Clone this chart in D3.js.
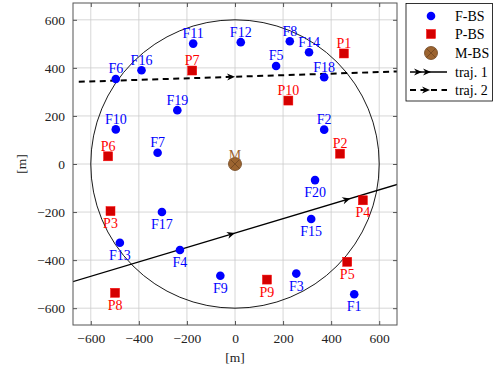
<!DOCTYPE html>
<html>
<head>
<meta charset="utf-8">
<script src="https://cdn.jsdelivr.net/npm/d3@7"></script>
<style>
  body { margin: 0; background: #fff; }
  svg { font-family: "Liberation Serif", "DejaVu Serif", serif; }
</style>
</head>
<body>
<div id="chart"></div>
<script>
/// data

// F-BS (femto base stations)
const fNames = ["F1","F2","F3","F4","F5","F6","F7","F8","F9","F10","F11","F12","F13","F14","F15","F16","F17","F18","F19","F20"];
const fX = [496, 371, 255, -229, 171, -496, -322, 228, -61, -496, -174, 24, -479, 308, 317, -389, -304, 371, -240, 333];
const fY = [-542, 143, -456, -358, 408, 354, 47, 511, -465, 144, 501, 507, -328, 465, -229, 390, -200, 361, 224, -67];

// P-BS (pico base stations)
const pNames = ["P1","P2","P3","P4","P5","P6","P7","P8","P9","P10"];
const pX = [453, 437, -518, 532, 467, -528, -178, -499, 133, 222];
const pY = [460, 43, -196, -151, -407, 32, 389, -536, -481, 264];

// M-BS
const mX = [0];
const mY = [0];

// labels which sit under their marker
const labelBelow = ["F1","F3","F4","F9","F13","F15","F17","F20","P3","P4","P5","P8","P9"];

// trajectories: end points and where the arrow heads are
const traj1X = [-675, 675];
const traj1Y = [-490, -85];
const traj1Arrows = [0, 480];
const traj2X = [-650, 675];
const traj2Y = [342, 385];
const traj2Arrows = [0];

const cellRadius = 600;
const ticks = [-600, -400, -200, 0, 200, 400, 600];

///////////////////////////////////////////////////////////////////////////////

const width = 493, height = 370;
const margin = { top: 3, right: 96, bottom: 45, left: 73 };

const svg = d3.select("#chart").append("svg")
  .attr("width", width)
  .attr("height", height);

const x = d3.scaleLinear().domain([-674, 674]).range([margin.left, width - margin.right]);
const y = d3.scaleLinear().domain([-670, 670]).range([height - margin.bottom, margin.top]);

const fmt = d => d < 0 ? "\u2212" + Math.abs(d) : "" + d;

// clip for everything inside the frame
svg.append("clipPath").attr("id", "plotClip")
  .append("rect")
  .attr("x", x(-674)).attr("y", y(670))
  .attr("width", x(674) - x(-674)).attr("height", y(-670) - y(670));

// grid
const grid = svg.append("g").attr("class", "grid");
grid.selectAll("line.gx").data(ticks).enter().append("line")
  .attr("x1", d => x(d)).attr("x2", d => x(d))
  .attr("y1", y(670)).attr("y2", y(-670))
  .style("stroke", "#cccccc").style("stroke-width", 0.8);
grid.selectAll("line.gy").data(ticks).enter().append("line")
  .attr("y1", d => y(d)).attr("y2", d => y(d))
  .attr("x1", x(-674)).attr("x2", x(674))
  .style("stroke", "#cccccc").style("stroke-width", 0.8);

// axes, ticks inward like pgfplots
const tickLen = 4;
const axisStyle = g => {
  g.select(".domain").remove();
  g.selectAll(".tick line").style("stroke", "#555");
  g.selectAll(".tick text")
    .style("font-family", "'Liberation Serif', serif")
    .style("font-size", "13.5px")
    .style("fill", "#222");
};

svg.append("g")
  .attr("transform", `translate(0, ${y(-670)})`)
  .call(d3.axisBottom(x).tickValues(ticks).tickFormat(fmt).tickSizeInner(-tickLen).tickPadding(8))
  .call(axisStyle);
svg.append("g")
  .attr("transform", `translate(0, ${y(670)})`)
  .call(d3.axisTop(x).tickValues(ticks).tickFormat("").tickSizeInner(-tickLen))
  .call(axisStyle);
svg.append("g")
  .attr("transform", `translate(${x(-674)}, 0)`)
  .call(d3.axisLeft(y).tickValues(ticks).tickFormat(fmt).tickSizeInner(-tickLen).tickPadding(8))
  .call(axisStyle);
svg.append("g")
  .attr("transform", `translate(${x(674)}, 0)`)
  .call(d3.axisRight(y).tickValues(ticks).tickFormat("").tickSizeInner(-tickLen))
  .call(axisStyle);

const plot = svg.append("g").attr("clip-path", "url(#plotClip)");

// macro cell border
plot.append("ellipse")
  .attr("cx", x(0)).attr("cy", y(0))
  .attr("rx", x(cellRadius) - x(0)).attr("ry", y(0) - y(cellRadius))
  .style("fill", "none").style("stroke", "#000").style("stroke-width", 0.9);

// arrow head, tip at origin, pointing right
const arrowPath = "M0,0 L-8,-3.6 L-5.5,0 L-8,3.6 Z";

function trajectory(xs, ys, arrows, dash, lw) {
  plot.append("line")
    .attr("x1", x(xs[0])).attr("y1", y(ys[0]))
    .attr("x2", x(xs[1])).attr("y2", y(ys[1]))
    .style("stroke", "#000").style("stroke-width", lw)
    .style("stroke-dasharray", dash);
  const slope = (ys[1] - ys[0]) / (xs[1] - xs[0]);
  const ang = Math.atan2(y(ys[1]) - y(ys[0]), x(xs[1]) - x(xs[0])) * 180 / Math.PI;
  plot.selectAll(null).data(arrows).enter().append("path")
    .attr("d", arrowPath)
    .attr("transform", d => `translate(${x(d)}, ${y(ys[0] + slope * (d - xs[0]))}) rotate(${ang})`)
    .style("fill", "#000");
}

trajectory(traj1X, traj1Y, traj1Arrows, null, 1.3);
trajectory(traj2X, traj2Y, traj2Arrows, "6,4.5", 2);

// markers
const fData = fNames.map((n, i) => ({ name: n, x: fX[i], y: fY[i] }));
const pData = pNames.map((n, i) => ({ name: n, x: pX[i], y: pY[i] }));

plot.selectAll("circle.fbs").data(fData).enter().append("circle")
  .attr("class", "fbs")
  .attr("cx", d => x(d.x)).attr("cy", d => y(d.y)).attr("r", 4.3)
  .style("fill", "#0000ff");

const sq = 9;
plot.selectAll("rect.pbs").data(pData).enter().append("rect")
  .attr("class", "pbs")
  .attr("x", d => x(d.x) - sq / 2).attr("y", d => y(d.y) - sq / 2)
  .attr("width", sq).attr("height", sq)
  .style("fill", "#d40000").style("stroke", "#ff0000").style("stroke-width", 0.5);

function mbs(g, cx, cy, r) {
  g.append("circle").attr("cx", cx).attr("cy", cy).attr("r", r)
    .style("fill", "#9c6430").style("stroke", "#6e4520").style("stroke-width", 0.8);
  const k = r * 0.7071;
  g.append("path")
    .attr("d", `M${cx - k},${cy - k}L${cx + k},${cy + k}M${cx - k},${cy + k}L${cx + k},${cy - k}`)
    .style("stroke", "#6e4520").style("stroke-width", 0.8);
}
mX.forEach((mx, i) => mbs(plot, x(mx), y(mY[i]), 6.5));

// labels
function labels(data, colour) {
  svg.selectAll(null).data(data).enter().append("text")
    .attr("x", d => x(d.x))
    .attr("y", d => labelBelow.includes(d.name) ? y(d.y) + 17 : y(d.y) - 5.5)
    .style("text-anchor", "middle")
    .style("font-size", "14px")
    .style("fill", colour)
    .text(d => d.name);
}
labels(fData, "#0000ff");
labels(pData, "#ff0000");

svg.append("text")
  .attr("x", x(mX[0])).attr("y", y(mY[0]) - 4)
  .style("text-anchor", "middle")
  .style("font-size", "14px")
  .style("fill", "#9c6430")
  .text("M");

// frame
svg.append("rect")
  .attr("x", x(-674)).attr("y", y(670))
  .attr("width", x(674) - x(-674)).attr("height", y(-670) - y(670))
  .style("fill", "none").style("stroke", "#555").style("stroke-width", 1);

// axis titles
svg.append("text")
  .attr("x", x(0)).attr("y", 362)
  .style("text-anchor", "middle").style("font-size", "13.5px").style("fill", "#222")
  .text("[m]");
svg.append("text")
  .attr("transform", `translate(26, ${y(0)}) rotate(-90)`)
  .style("text-anchor", "middle").style("font-size", "13.5px").style("fill", "#222")
  .text("[m]");

// legend
const lg = svg.append("g").attr("class", "legend");
lg.append("rect")
  .attr("x", 406).attr("y", 3.5).attr("width", 86.5).attr("height", 97.5)
  .style("fill", "#fff").style("stroke", "#000").style("stroke-width", 0.8);

const legendNames = ["F-BS", "P-BS", "M-BS", "traj. 1", "traj. 2"];
const legendY = [16, 34, 53, 72, 90];
const lmx = 431;

lg.selectAll("text").data(legendNames).enter().append("text")
  .attr("x", 455).attr("y", (d, i) => legendY[i] + 5)
  .style("font-size", "14px").style("fill", "#000")
  .text(d => d);

lg.append("circle").attr("cx", lmx).attr("cy", legendY[0]).attr("r", 4.3).style("fill", "#0000ff");
lg.append("rect").attr("x", lmx - sq / 2).attr("y", legendY[1] - sq / 2).attr("width", sq).attr("height", sq)
  .style("fill", "#d40000").style("stroke", "#ff0000").style("stroke-width", 0.5);
mbs(lg, lmx, legendY[2], 6.5);

lg.append("line").attr("x1", 410).attr("x2", 447).attr("y1", legendY[3]).attr("y2", legendY[3])
  .style("stroke", "#000").style("stroke-width", 1.3);
lg.selectAll(null).data([422, 431]).enter().append("path")
  .attr("d", arrowPath)
  .attr("transform", d => `translate(${d}, ${legendY[3]})`)
  .style("fill", "#000");

lg.append("line").attr("x1", 410).attr("x2", 447).attr("y1", legendY[4]).attr("y2", legendY[4])
  .style("stroke", "#000").style("stroke-width", 2).style("stroke-dasharray", "6,4.5");
lg.append("path")
  .attr("d", arrowPath)
  .attr("transform", `translate(430, ${legendY[4]})`)
  .style("fill", "#000");
</script>
</body>
</html>
